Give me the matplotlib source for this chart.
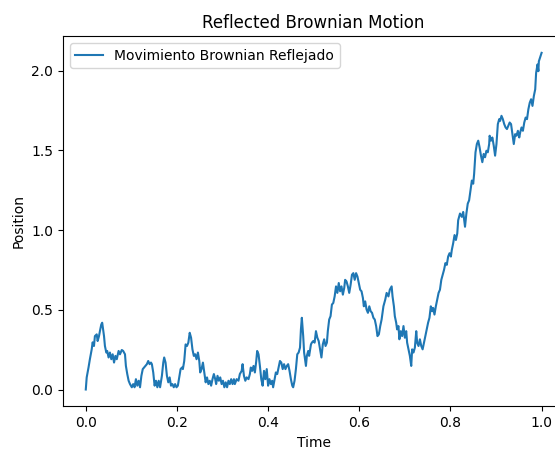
import matplotlib
matplotlib.use("Agg")
import matplotlib.pyplot as plt

# reflected path, sampled along the trace
time = [
    0.000, 0.002, 0.006, 0.009, 0.013, 0.015, 0.018, 0.020, 0.024, 0.026,
    0.029, 0.031, 0.034, 0.036, 0.038, 0.040, 0.042, 0.045, 0.047, 0.050,
    0.053, 0.056, 0.059, 0.062, 0.065, 0.068, 0.072, 0.075, 0.079, 0.082,
    0.086, 0.088, 0.091, 0.094, 0.097, 0.101, 0.104, 0.107, 0.110, 0.113,
    0.116, 0.119, 0.122, 0.125, 0.128, 0.131, 0.134, 0.137, 0.140, 0.143,
    0.145, 0.148, 0.151, 0.154, 0.157, 0.160,
    0.163, 0.167, 0.170, 0.172, 0.175, 0.178, 0.181, 0.184, 0.187, 0.190,
    0.193, 0.196, 0.199, 0.202, 0.205, 0.208, 0.211, 0.213, 0.216, 0.219,
    0.222, 0.225, 0.228, 0.231, 0.234, 0.237, 0.240, 0.243, 0.246, 0.249,
    0.251, 0.254, 0.257, 0.260, 0.263, 0.266, 0.269, 0.272, 0.275, 0.278,
    0.281, 0.284, 0.286, 0.289, 0.292, 0.295, 0.298, 0.301, 0.304, 0.307,
    0.310, 0.313, 0.316, 0.319, 0.322, 0.325,
    0.327, 0.331, 0.335, 0.338, 0.342, 0.344, 0.347, 0.350, 0.353, 0.357,
    0.360, 0.362, 0.365, 0.368, 0.371, 0.374, 0.376, 0.379, 0.382, 0.385,
    0.388, 0.391, 0.394, 0.397, 0.400, 0.403, 0.406, 0.409, 0.411, 0.415,
    0.417, 0.420, 0.423, 0.426, 0.429, 0.432, 0.435, 0.438, 0.441, 0.444,
    0.447, 0.450, 0.453, 0.455, 0.458, 0.461, 0.464, 0.467, 0.470, 0.472,
    0.474, 0.477, 0.479, 0.483, 0.485, 0.488, 0.490, 0.494, 0.496, 0.499,
    0.502, 0.505, 0.508, 0.511, 0.514, 0.517, 0.520, 0.523, 0.526, 0.529,
    0.531, 0.534, 0.537, 0.540, 0.543, 0.546, 0.549, 0.552, 0.555, 0.558,
    0.561, 0.564, 0.567, 0.569, 0.572, 0.575, 0.578, 0.581, 0.584, 0.587,
    0.590, 0.593, 0.596, 0.599, 0.602, 0.605, 0.608, 0.610, 0.613, 0.616,
    0.619, 0.622, 0.625, 0.628, 0.631, 0.634, 0.637, 0.640, 0.643, 0.646,
    0.649, 0.653, 0.657, 0.660, 0.664, 0.667, 0.671, 0.673, 0.676, 0.678,
    0.681, 0.683, 0.686, 0.688, 0.691, 0.694, 0.697, 0.700, 0.703, 0.705,
    0.708, 0.711, 0.714, 0.716, 0.719, 0.722, 0.725, 0.727, 0.730, 0.733,
    0.736, 0.739, 0.742, 0.745, 0.748, 0.751, 0.754, 0.757, 0.760, 0.762,
    0.765, 0.768, 0.771, 0.774, 0.777, 0.780, 0.783, 0.786, 0.789, 0.792,
    0.795, 0.798, 0.801, 0.803, 0.806, 0.809, 0.812, 0.815,
    0.817, 0.821, 0.825, 0.828, 0.832, 0.835, 0.838, 0.841, 0.844, 0.847,
    0.850, 0.852, 0.855, 0.858, 0.861, 0.864, 0.867, 0.870, 0.873, 0.876,
    0.879, 0.882, 0.885, 0.886, 0.889, 0.892, 0.895, 0.898, 0.901, 0.904,
    0.907, 0.909, 0.912, 0.915, 0.918, 0.921, 0.924, 0.927, 0.930, 0.933,
    0.936, 0.939, 0.942, 0.945, 0.948, 0.951, 0.953, 0.956, 0.959, 0.962,
    0.965, 0.968, 0.971, 0.974, 0.977, 0.980, 0.983, 0.986, 0.988, 0.991,
    0.993, 0.994, 1.000,
]

position = [
    0.000, 0.076, 0.138, 0.190, 0.252, 0.296, 0.273, 0.335, 0.346, 0.304,
    0.335, 0.366, 0.408, 0.419, 0.377, 0.335, 0.273, 0.232, 0.242, 0.201,
    0.232, 0.190, 0.221, 0.169, 0.211, 0.190, 0.242, 0.221, 0.248, 0.242,
    0.221, 0.148, 0.097, 0.055, 0.034, 0.014, 0.034, 0.014, 0.065, 0.024,
    0.055, 0.014, 0.086, 0.128, 0.138, 0.148, 0.159, 0.179, 0.159, 0.169,
    0.159, 0.107, 0.024, 0.055, 0.014, 0.055,
    0.014, 0.086, 0.169, 0.201, 0.169, 0.086, 0.045, 0.076, 0.024, 0.034,
    0.014, 0.034, 0.014, 0.024, 0.076, 0.128, 0.138, 0.128, 0.179, 0.283,
    0.273, 0.294, 0.356, 0.325, 0.252, 0.211, 0.221, 0.190, 0.232, 0.179,
    0.107, 0.128, 0.169, 0.107, 0.045, 0.076, 0.034, 0.055, 0.024, 0.065,
    0.097, 0.065, 0.034, 0.086, 0.055, 0.076, 0.034, 0.055, 0.014, 0.045,
    0.014, 0.055, 0.034, 0.065, 0.034, 0.065,
    0.034, 0.065, 0.055, 0.097, 0.117, 0.159, 0.086, 0.055, 0.076, 0.065,
    0.097, 0.138, 0.117, 0.148, 0.107, 0.179, 0.242, 0.221, 0.148, 0.065,
    0.024, 0.117, 0.065, 0.128, 0.024, 0.065, 0.034, 0.055, 0.014, 0.076,
    0.107, 0.097, 0.138, 0.179, 0.169, 0.128, 0.159, 0.128, 0.148, 0.159,
    0.117, 0.065, 0.024, 0.014, 0.055, 0.128, 0.221, 0.232, 0.263, 0.377,
    0.450, 0.335, 0.232, 0.148, 0.211, 0.242, 0.211, 0.283, 0.294, 0.304,
    0.294, 0.366, 0.325, 0.304, 0.252, 0.201, 0.283, 0.315, 0.273, 0.294,
    0.366, 0.439, 0.460, 0.533, 0.543, 0.584, 0.647, 0.606, 0.668, 0.616,
    0.647, 0.595, 0.637, 0.688, 0.678, 0.647, 0.606, 0.657, 0.720, 0.730,
    0.688, 0.730, 0.709, 0.668, 0.626, 0.616, 0.574, 0.522, 0.553, 0.502,
    0.481, 0.522, 0.491, 0.481, 0.450, 0.439, 0.398, 0.335, 0.346, 0.398,
    0.439, 0.522, 0.564, 0.606, 0.584, 0.626, 0.647, 0.584, 0.522, 0.460,
    0.419, 0.377, 0.398, 0.315, 0.366, 0.335, 0.398, 0.325, 0.366, 0.294,
    0.252, 0.211, 0.148, 0.252, 0.232, 0.263, 0.366, 0.294, 0.273, 0.315,
    0.273, 0.252, 0.294, 0.335, 0.377, 0.419, 0.450, 0.522, 0.491, 0.512,
    0.470, 0.522, 0.564, 0.606, 0.626, 0.688, 0.720, 0.751, 0.793, 0.782,
    0.834, 0.855, 0.834, 0.875, 0.917, 0.969, 0.938, 0.979,
    1.062, 1.104, 1.083, 1.114, 1.021, 1.104, 1.166, 1.187, 1.248, 1.311,
    1.291, 1.353, 1.488, 1.540, 1.561, 1.519, 1.467, 1.426, 1.478, 1.457,
    1.498, 1.488, 1.540, 1.592, 1.561, 1.581, 1.530, 1.467, 1.540, 1.665,
    1.696, 1.685, 1.717, 1.696, 1.665, 1.644, 1.634, 1.654, 1.675, 1.665,
    1.602, 1.540, 1.602, 1.592, 1.623, 1.581, 1.612, 1.644, 1.623, 1.675,
    1.706, 1.696, 1.758, 1.799, 1.821, 1.779, 1.841, 1.883, 1.986, 2.039,
    1.997, 2.059, 2.112,
]

fig = plt.figure(figsize=(5.55, 4.49), dpi=100)
# right edge of the axes runs past the canvas, so the right spine is clipped
ax = fig.add_axes([0.1135, 0.095, 0.9034, 0.8248])
ax.plot(time, position, label="Movimiento Brownian Reflejado")
ax.set_title("Reflected Brownian Motion")
ax.set_xlabel("Time")
ax.set_ylabel("Position")
ax.legend(loc="upper left")
fig.savefig("out.png", dpi=100)
